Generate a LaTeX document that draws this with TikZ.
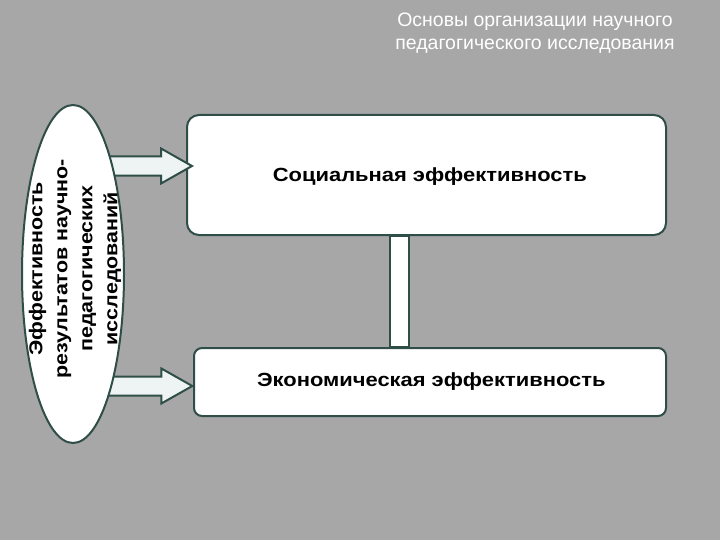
\documentclass[tikz,border=0pt]{standalone}
\usepackage{fontspec}
\setmainfont{Liberation Sans}
\newfontfamily\widefont[FakeStretch=1.15]{Liberation Sans}
\usepackage{tikz}
\usetikzlibrary{arrows.meta,positioning,shapes.geometric,shapes.arrows,calc}
\definecolor{bggray}{RGB}{167,167,167}
\definecolor{edgedark}{RGB}{48,78,72}
\definecolor{arrowfill}{RGB}{238,243,243}

\begin{document}
\begin{tikzpicture}[
  box/.style={rectangle, draw=edgedark, line width=1.5pt, fill=white,
    rounded corners=9pt, font=\widefont\bfseries\fontsize{14.3}{17}\selectfont},
  oval/.style={ellipse, draw=edgedark, line width=1.5pt, fill=white, inner sep=0pt},
  ovaltext/.style={align=center, rotate=90, inner sep=0pt,
    font=\widefont\bfseries\fontsize{14}{18.75}\selectfont},
  blockarr/.style={single arrow, draw=edgedark, line width=1.5pt, fill=arrowfill,
    inner sep=6.375pt, single arrow head extend=6pt, single arrow tip angle=59,
    minimum height=72pt},
  steg/.style={draw=edgedark, line width=1.5pt, fill=white},
  title/.style={align=center, text=white, font=\fontsize{14.6}{17.25}\selectfont}
]
\useasboundingbox (0,0) rectangle (540pt,405pt);
\fill[bggray] (0,0) rectangle (540pt,405pt);

% Title
\node[title] (titel) at (401.25pt,380pt) {Основы организации научного\\педагогического исследования};

% Boxes
\node[box, minimum width=359.25pt, minimum height=90pt, text depth=0pt] (sozial) at (319.875pt,273.75pt)
  {\hspace*{5pt}Социальная эффективность};
\node[box, rounded corners=6pt, minimum width=354pt, minimum height=51pt,
  below=83.25pt of sozial, xshift=2.625pt] (oekon) {\hspace*{2pt}Экономическая эффективность};

% Link between boxes
\draw[steg] ($(sozial.south)+(-27.4pt,0)$) rectangle ($(sozial.south |- oekon.north)+(-13.1pt,0)$);

% Arrows
\node[blockarr, anchor=tip] (pfeil1) at ($(sozial.west)+(6pt,6.75pt)$) {};
\node[blockarr, anchor=tip] (pfeil2) at ($(oekon.west)+(1pt,-3pt)$) {};

% Left
\node[oval, minimum width=76.5pt, minimum height=253.5pt] (effekt) at (54.75pt,199.5pt) {};
\node[ovaltext] (effekttext) at ($(effekt.center)+(1.5pt,4pt)$)
  {Эффективность\\результатов научно-\\педагогических\\исследований};

\end{tikzpicture}
\end{document}
